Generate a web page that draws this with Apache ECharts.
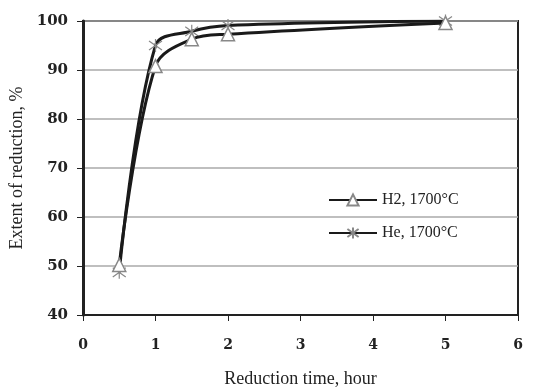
<!DOCTYPE html>
<html><head><meta charset="utf-8">
<script src="https://cdn.jsdelivr.net/npm/echarts@6/dist/echarts.min.js"></script>
<style>html,body{margin:0;padding:0;background:#fff}#c{width:546px;height:390px}</style>
</head><body><div id="c"></div>
<script>
const timeH2 = [0.5, 1, 1.5, 2, 5];
const extentH2 = [50.2, 90.8, 96.3, 97.3, 99.6];
const timeHe = [0.5, 1, 1.5, 2, 5];
const extentHe = [48.7, 95.0, 97.9, 99.1, 100];
const xTicks = [0, 1, 2, 3, 4, 5, 6];
const yTicks = [40, 50, 60, 70, 80, 90, 100];
const seriesNames = ['H2, 1700°C', 'He, 1700°C'];

const pair = (xs, ys) => xs.map((x, i) => [x, ys[i]]);
const star = 'path://M0,-10L0,10M-7.07,-7.07L7.07,7.07M-7.07,7.07L7.07,-7.07';
const font = 'Liberation Serif';

const chart = echarts.init(document.getElementById('c'));
chart.setOption({
  animation: false,
  backgroundColor: '#fff',
  grid: { left: 83, right: 28, top: 21, bottom: 75, show: true, borderColor: '#222', borderWidth: 2, backgroundColor: 'transparent', containLabel: false, outerBoundsMode: 'none' },
  legend: {
    orient: 'vertical', left: 323, top: 187, itemGap: 17, itemWidth: 48, itemHeight: 14,
    data: seriesNames,
    textStyle: { fontFamily: font, fontSize: 16, color: '#222' }
  },
  xAxis: {
    type: 'value', min: xTicks[0], max: xTicks[xTicks.length - 1], interval: 1,
    name: 'Reduction time, hour', nameLocation: 'middle', nameGap: 55,
    nameTextStyle: { fontFamily: font, fontSize: 18, color: '#222' },
    axisLine: { show: true, lineStyle: { color: '#222', width: 2 } },
    axisTick: { show: true, length: 6, lineStyle: { color: '#222' } },
    axisLabel: { margin: 23, fontFamily: 'DejaVu Serif', fontSize: 14, fontWeight: 'bold', color: '#222' },
    splitLine: { show: false }
  },
  yAxis: {
    type: 'value', min: yTicks[0], max: yTicks[yTicks.length - 1], interval: 10,
    name: 'Extent of reduction, %', nameLocation: 'middle', nameGap: 56,
    nameTextStyle: { fontFamily: font, fontSize: 18, color: '#222' },
    axisLine: { show: true, lineStyle: { color: '#222', width: 3 } },
    axisTick: { show: true, length: 6, lineStyle: { color: '#222' } },
    axisLabel: { margin: 15, fontFamily: 'DejaVu Serif', fontSize: 15, fontWeight: 'bold', color: '#222' },
    splitLine: { show: true, lineStyle: { color: '#aaa', width: 1.5 } }
  },
  series: [
    {
      name: seriesNames[0], type: 'line', smooth: 0.35, data: pair(timeH2, extentH2),
      symbol: 'triangle', symbolSize: 13,
      lineStyle: { color: '#1a1a1a', width: 3 },
      itemStyle: { color: '#fff', borderColor: '#888', borderWidth: 1.5 },
      z: 3
    },
    {
      name: seriesNames[1], type: 'line', smooth: 0.35, data: pair(timeHe, extentHe),
      symbol: star, symbolSize: 13,
      lineStyle: { color: '#1a1a1a', width: 3 },
      itemStyle: { color: '#888', borderColor: '#888', borderWidth: 1.2 },
      z: 2
    }
  ]
});
</script></body></html>
